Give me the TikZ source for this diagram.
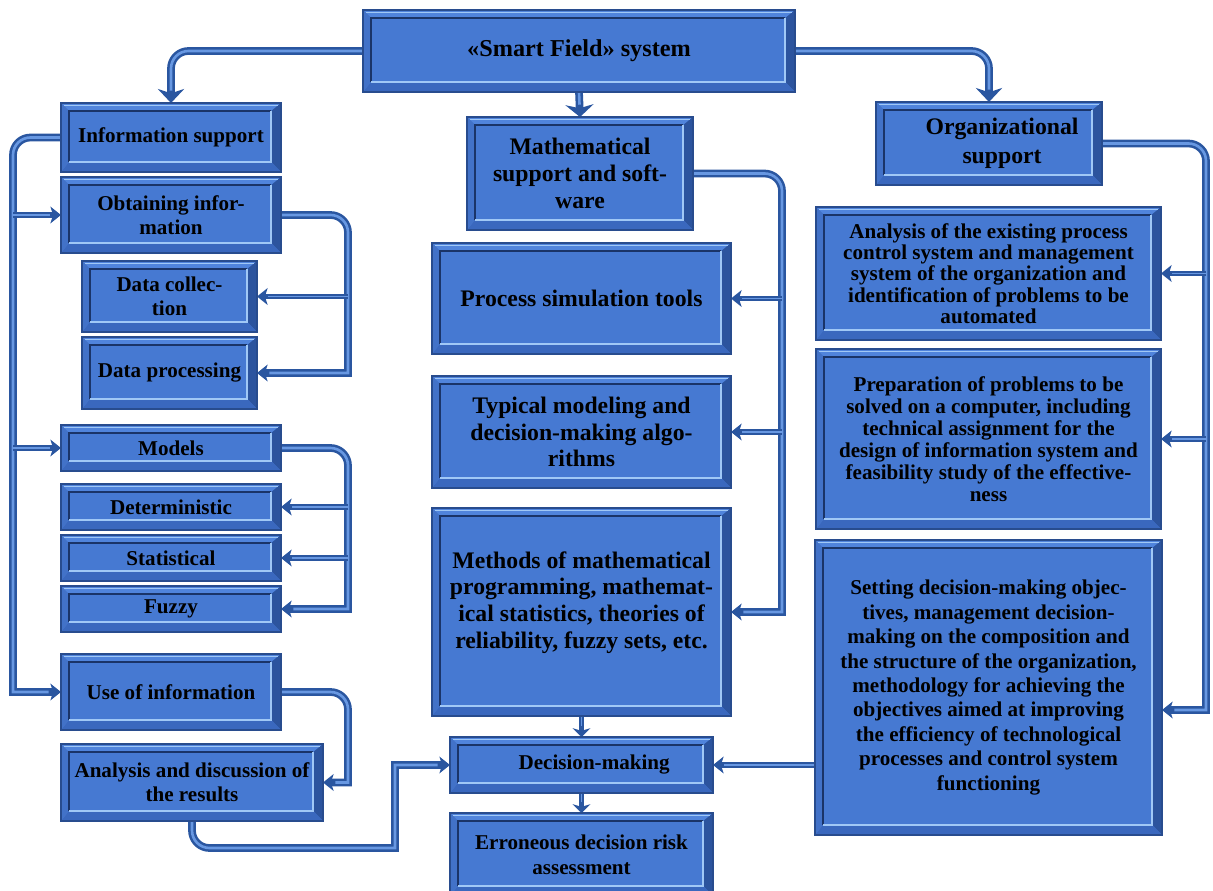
\documentclass[tikz,border=0pt]{standalone}
\usepackage{fontspec}
\setmainfont{Liberation Serif}
\usetikzlibrary{arrows.meta}
\definecolor{boxfill}{RGB}{70,121,210}
\definecolor{bandT}{RGB}{80,132,220}
\definecolor{bandR}{RGB}{44,84,158}
\definecolor{bandB}{RGB}{58,104,190}
\definecolor{bandL}{RGB}{66,114,200}
\definecolor{outline}{RGB}{40,76,142}
\definecolor{innerdark}{RGB}{26,52,104}
\definecolor{innerlight}{RGB}{160,200,246}
\definecolor{pipeD}{RGB}{42,86,160}
\definecolor{pipeL}{RGB}{104,152,226}
\pgfdeclarelayer{bg}
\pgfsetlayers{bg,main}
\newcommand\fntL{\bfseries\fontsize{12}{13.6}\selectfont}
\newcommand\fntM{\bfseries\fontsize{13.5}{15.3}\selectfont}
\newcommand\fntS{\bfseries\fontsize{13.8}{16}\selectfont}
\newcommand\fntO{\bfseries\fontsize{13.5}{16.4}\selectfont}
\newcommand\fntRa{\bfseries\fontsize{12}{12.1}\selectfont}
\newcommand\fntRb{\bfseries\fontsize{12}{12.5}\selectfont}
\newcommand\fntRc{\bfseries\fontsize{12}{13.9}\selectfont}
\newcommand\fntE{\bfseries\fontsize{12}{14.2}\selectfont}
\newcommand\bevbox[7]{%
  \pgfmathsetmacro\bxw{(#4-#2)*0.02}%
  \pgfmathsetmacro\bxh{(#5-#3)*0.02}%
  \node[bevel, minimum width=\bxw cm, minimum height=\bxh cm, font=#6] (#1) at ({(#2+#4)/2},{(#3+#5)/2}) {#7};%
}
\tikzset{
  bevel/.style={rectangle, inner sep=0pt, outer sep=0pt, fill=boxfill, draw=outline,
    line width=0.8pt, align=center, text=black,
    path picture={
      \coordinate (ppnw) at (path picture bounding box.north west);
      \coordinate (ppne) at (path picture bounding box.north east);
      \coordinate (ppse) at (path picture bounding box.south east);
      \coordinate (ppsw) at (path picture bounding box.south west);
      \coordinate (ipnw) at ([shift={(4.6pt,-4.6pt)}]ppnw);
      \coordinate (ipne) at ([shift={(-5.6pt,-4.6pt)}]ppne);
      \coordinate (ipse) at ([shift={(-5.6pt,5.8pt)}]ppse);
      \coordinate (ipsw) at ([shift={(4.6pt,5.8pt)}]ppsw);
      \fill[bandT] (ppnw) -- (ppne) -- (ipne) -- (ipnw) -- cycle;
      \fill[bandR] (ppne) -- (ppse) -- (ipse) -- (ipne) -- cycle;
      \fill[bandB] (ppse) -- (ppsw) -- (ipsw) -- (ipse) -- cycle;
      \fill[bandL] (ppsw) -- (ppnw) -- (ipnw) -- (ipsw) -- cycle;
      \draw[innerlight, line width=0.7pt] ([shift={(1.5pt,-1.3pt)}]ppnw) -- ([shift={(-1.5pt,-1.3pt)}]ppne);
      \draw[innerdark, line width=1pt] (ipsw) -- (ipnw) -- (ipne);
      \draw[innerlight, line width=1pt] (ipne) -- (ipse) -- (ipsw);
    }},
  pipe/.style={draw=pipeD, line width=4.4pt,
    postaction={draw=pipeL, line width=1.5pt, arrows=-, shorten >=7pt}},
  rc/.style={rounded corners=0.35cm},
  branch/.style={draw=pipeD, line width=3.4pt,
    -{Stealth[length=6pt,width=9.5pt,inset=1.5pt]},
    postaction={draw=pipeL, line width=1.1pt, arrows=-, shorten >=6pt}},
  bigtip/.style={-{Stealth[length=8pt,width=15pt,inset=2.5pt]}},
  midtip/.style={-{Stealth[length=7pt,width=16pt,inset=2pt]}},
  smalltip/.style={-{Stealth[length=6pt,width=9.5pt,inset=1.5pt]}},
  downtip/.style={-{Stealth[length=5pt,width=10pt,inset=1.5pt]}},
}
\begin{document}
\begin{tikzpicture}[x=0.02cm, y=-0.02cm]
\useasboundingbox (0,0) rectangle (1213,891);
% top
\bevbox{sf}{363}{10}{795}{92}{\fntS}{«Smart Field» system}
% left column
\bevbox{inf}{61}{103}{281}{172}{\fntL}{Information support}
\bevbox{obt}{61}{177}{281}{253}{\fntL}{Obtaining infor-\\mation}
\bevbox{dc}{82}{261}{257}{332}{\fntL}{Data collec-\\tion}
\bevbox{dp}{82}{337}{257}{409}{\fntL}{Data processing}
\bevbox{mod}{61}{425}{281}{471}{\fntL}{Models}
\bevbox{det}{61}{484}{281}{530}{\fntL}{Deterministic}
\bevbox{sta}{61}{535}{281}{581}{\fntL}{Statistical}
\bevbox{fuz}{61}{586}{281}{632}{\fntL}{Fuzzy}
\bevbox{use}{61}{654}{281}{730}{\fntL}{Use of information}
\bevbox{ad}{61}{744}{323}{821}{\fntL}{Analysis and discussion of\\the results}
% middle column
\bevbox{math}{467}{117}{693}{230}{\fntM}{Mathematical\\support and soft-\\ware}
\bevbox{ps}{432}{243}{731}{354}{\fntM}{Process simulation tools}
\bevbox{typ}{432}{376}{731}{488}{\fntM}{Typical modeling and\\decision-making algo-\\rithms}
\bevbox{meth}{432}{508}{731}{716}{\fntM}{Methods of mathematical\\programming, mathemat-\\ical statistics, theories of\\reliability, fuzzy sets, etc.\\[-1.7pt]}
\bevbox{dm}{450}{737}{713}{793}{\fntL}{\hspace*{1.2em}Decision-making}
\bevbox{err}{450}{813}{713}{896}{\fntE}{Erroneous decision risk\\assessment}
% right column
\bevbox{org}{876}{102}{1102}{185}{\fntO}{\hspace*{1.1em}Organizational\\\hspace*{1.1em}support}
\bevbox{ae}{816}{207}{1161}{340}{\fntRa}{Analysis of the existing process\\control system and management\\system of the organization and\\identification of problems to be\\automated}
\bevbox{prep}{816}{349}{1161}{529}{\fntRb}{Preparation of problems to be\\solved on a computer, including\\technical assignment for the\\design of information system and\\feasibility study of the effective-\\ness}
\bevbox{set}{815}{540}{1162}{835}{\fntRc}{Setting decision-making objec-\\tives, management decision-\\making on the composition and\\the structure of the organization,\\methodology for achieving the\\objectives aimed at improving\\the efficiency of technological\\processes and control system\\functioning}
% connectors
\coordinate (lb) at (13,0);
\coordinate (rb) at (348,0);
\coordinate (mb) at (782,0);
\coordinate (ob) at (1206,0);
\coordinate (adturn) at (395,848);
\coordinate (setin) at (set.east |- 0,710);
\begin{pgfonlayer}{bg}
\draw[pipe, bigtip, rc] (sf.west) -| (inf.north);
\draw[pipe, bigtip, rc] (sf.east) -| (org.north);
\draw[pipe, midtip] (sf.south) -- (math.north);
% information bus
\draw[pipe, smalltip] (inf.west) [rc] -- (lb |- inf.west) [sharp corners] -- (lb |- use.west) -- (use.west);
\draw[branch] (lb |- obt.west) -- (obt.west);
\draw[branch] (lb |- mod.west) -- (mod.west);
% obtaining
\draw[pipe, smalltip] (obt.east) [rc] -- (rb |- obt.east) [sharp corners] -- (rb |- dp.east) -- (dp.east);
\draw[branch] (rb |- dc.east) -- (dc.east);
% models
\draw[pipe, smalltip] (mod.east) [rc] -- (rb |- mod.east) [sharp corners] -- (rb |- fuz.east) -- (fuz.east);
\draw[branch] (rb |- det.east) -- (det.east);
\draw[branch] (rb |- sta.east) -- (sta.east);
% use
\draw[pipe, smalltip] (use.east) [rc] -- (rb |- use.east) [sharp corners] -- (rb |- ad.east) -- (ad.east);
% analysis to decision
\draw[pipe, smalltip] (ad.south) [rc] -- (ad.south |- adturn) [sharp corners] -- (adturn) |- (dm.west);
% math
\draw[pipe, smalltip] (math.east) [rc] -- (mb |- math.east) [sharp corners] -- (mb |- meth.east) -- (meth.east);
\draw[branch] (mb |- ps.east) -- (ps.east);
\draw[branch] (mb |- typ.east) -- (typ.east);
\draw[branch, downtip] (meth.south) -- (dm.north);
\draw[branch, downtip] (dm.south) -- (err.north);
% organizational
\draw[pipe, smalltip] (org.east) [rc] -- (ob |- org.east) [sharp corners] -- (ob |- setin) -- (setin);
\draw[branch] (ob |- ae.east) -- (ae.east);
\draw[branch] (ob |- prep.east) -- (prep.east);
\draw[branch] (set.west |- dm.east) -- (dm.east);
\end{pgfonlayer}
\end{tikzpicture}
\end{document}
